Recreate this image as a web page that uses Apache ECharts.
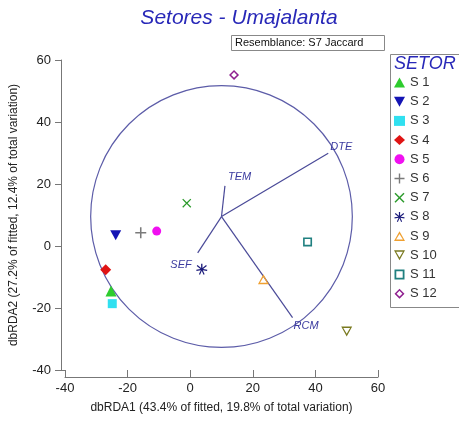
<!DOCTYPE html>
<html><head><meta charset="utf-8">
<script src="https://cdn.jsdelivr.net/npm/echarts@6/dist/echarts.min.js"></script>
<style>html,body{margin:0;padding:0;background:#fff}#c{width:459px;height:423px}</style>
</head><body><div id="c"></div>
<script>
// ---- data ----
const sectors = ['S 1','S 2','S 3','S 4','S 5','S 6','S 7','S 8','S 9','S 10','S 11','S 12'];
const dbRDA1 = [-25.3, -23.8, -24.9, -27.0, -10.7, -15.8, -1.1, 3.7, 23.4, 50.0, 37.5, 14.0];
const dbRDA2 = [-14.5, 3.5, -18.6, -7.7, 4.8, 4.3, 13.8, -7.5, -10.7, -27.6, 1.3, 55.2];
const vectorNames = ['DTE', 'TEM', 'RCM', 'SEF'];
const vectorX = [44.1, 11.1, 32.7, 2.4];
const vectorY = [29.9, 19.4, -23.1, -2.2];
const vectorOrigin = [10.0, 9.5];
const circleRadius = 42;
const xTicks = [-40, -20, 0, 20, 40, 60];
const yTicks = [-40, -20, 0, 20, 40, 60];

// ---- styles ----
const PATH_DOWN = 'path://M0,0L10,0L5,9Z';
const PATH_PLUS = 'path://M4.3,0H5.7V4.3H10V5.7H5.7V10H4.3V5.7H0V4.3H4.3Z';
const PATH_CROSS = 'path://M1,0L5,4L9,0L10,1L6,5L10,9L9,10L5,6L1,10L0,9L4,5L0,1Z';
const PATH_STAR = 'path://M4.4,0H5.6V3.9L8.9,1.2L9.6,2.1L6.2,4.8L10,5.4L9.8,6.5L5.9,5.9L7.6,9.4L6.6,9.9L5,6.4L3.4,9.9L2.4,9.4L4.1,5.9L0.2,6.5L0,5.4L3.8,4.8L0.4,2.1L1.1,1.2L4.4,3.9Z';
const PATH_OTRI = 'path://M5,0L10,9H0Z M5,2.6L1.9,7.7H8.1Z';
const PATH_ODOWN = 'path://M0,0H10L5,9Z M1.9,1.3L5,6.4L8.1,1.3Z';
const PATH_OSQ = 'path://M0,0H10V10H0Z M1.8,1.8V8.2H8.2V1.8Z';
const PATH_ODIA = 'path://M5,0L10,5L5,10L0,5Z M5,2.1L2.1,5L5,7.9L7.9,5Z';
const styles = [
  {symbol:'triangle', size:11, color:'#2ecc2e'},
  {symbol:PATH_DOWN, size:[11,10], color:'#1414b4'},
  {symbol:'rect', size:9, color:'#30e0f0'},
  {symbol:'diamond', size:11, color:'#e01414'},
  {symbol:'circle', size:9, color:'#f010f0'},
  {symbol:PATH_PLUS, size:11, color:'#7a7a7a'},
  {symbol:PATH_CROSS, size:9, color:'#2a9a2a'},
  {symbol:PATH_STAR, size:11, color:'#1a1a7a'},
  {symbol:PATH_OTRI, size:[11,10], color:'#f0a030'},
  {symbol:PATH_ODOWN, size:[11,10], color:'#7a7a20'},
  {symbol:PATH_OSQ, size:9, color:'#208080'},
  {symbol:PATH_ODIA, size:10, color:'#902090'}
];

const series = sectors.map((name, i) => ({
  name: name,
  type: 'scatter',
  data: [[dbRDA1[i], dbRDA2[i]]],
  symbol: styles[i].symbol,
  symbolSize: styles[i].size,
  itemStyle: {color: styles[i].color, opacity: 1},
  z: 5
}));

// correlation circle
series.push({
  type: 'custom', silent: true, z: 2,
  data: [[vectorOrigin[0], vectorOrigin[1], circleRadius]],
  renderItem: function(params, api) {
    const c = api.coord([api.value(0), api.value(1)]);
    const s = api.size([api.value(2), api.value(2)]);
    return {type: 'circle', shape: {cx: c[0], cy: c[1], r: (s[0] + s[1]) / 2},
      style: {fill: 'none', stroke: '#5c5ca8', lineWidth: 1.2}};
  }
});

// vectors
const labelOff = {DTE: [2, -6, 'left'], TEM: [3, -9, 'left'], RCM: [1, 8, 'left'], SEF: [-6, 12, 'right']};
series.push({
  type: 'custom', silent: true, z: 3,
  data: vectorNames.map((n, i) => [vectorOrigin[0], vectorOrigin[1], vectorX[i], vectorY[i], n]),
  renderItem: function(params, api) {
    const o = api.coord([api.value(0), api.value(1)]);
    const e = api.coord([api.value(2), api.value(3)]);
    const n = vectorNames[params.dataIndex];
    const off = labelOff[n];
    return {type: 'group', children: [
      {type: 'line', shape: {x1: o[0], y1: o[1], x2: e[0], y2: e[1]},
        style: {stroke: '#4a4a98', lineWidth: 1.2}},
      {type: 'text', x: e[0] + off[0], y: e[1] + off[1],
        style: {text: n, fill: '#3c3ca0', font: 'italic 11px Arial, "Liberation Sans"', align: off[2], verticalAlign: 'middle'}}
    ]};
  }
});

const chart = echarts.init(document.getElementById('c'), null, {renderer: 'canvas'});
chart.setOption({
  backgroundColor: '#fff',
  animation: false,
  title: {
    text: 'Setores - Umajalanta', left: 234, top: 3, textAlign: 'center',
    textStyle: {color: '#2828b8', fontStyle: 'italic', fontWeight: 'normal', fontSize: 21, fontFamily: 'Arial, "Liberation Sans"'}
  },
  grid: {left: 65, right: 81, top: 60, bottom: 53},
  xAxis: {
    type: 'value', min: xTicks[0], max: xTicks[xTicks.length - 1], interval: 20, offset: 7,
    name: 'dbRDA1 (43.4% of fitted, 19.8% of total variation)', nameLocation: 'middle', nameGap: 25,
    nameTextStyle: {color: '#222', fontSize: 12, fontFamily: 'Arial, "Liberation Sans"'},
    axisLine: {show: true, onZero: false, lineStyle: {color: '#777', width: 1}},
    axisTick: {show: true, inside: true, length: 7, lineStyle: {color: '#777'}},
    axisLabel: {color: '#222', fontSize: 13, margin: 5, fontFamily: 'Arial, "Liberation Sans"'},
    splitLine: {show: false}
  },
  yAxis: {
    type: 'value', min: yTicks[0], max: yTicks[yTicks.length - 1], interval: 20, offset: 4,
    name: 'dbRDA2 (27.2% of fitted, 12.4% of total variation)', nameLocation: 'middle', nameGap: 41,
    nameTextStyle: {color: '#222', fontSize: 12, fontFamily: 'Arial, "Liberation Sans"'},
    axisLine: {show: true, onZero: false, lineStyle: {color: '#777', width: 1}},
    axisTick: {show: true, length: 6, lineStyle: {color: '#777'}},
    axisLabel: {color: '#222', fontSize: 13, margin: 10, fontFamily: 'Arial, "Liberation Sans"'},
    splitLine: {show: false}
  },
  legend: {
    orient: 'vertical', left: 394, top: 76, padding: 0,
    itemWidth: 11, itemHeight: 10, itemGap: 6.2,
    data: sectors,
    textStyle: {color: '#333', fontSize: 13, fontFamily: 'Arial, "Liberation Sans"', padding: [0, 0, 0, 0]},
    selectedMode: false
  },
  graphic: [
    {type: 'rect', left: 231, top: 35, shape: {width: 153, height: 15},
      style: {fill: '#fff', stroke: '#888', lineWidth: 1}},
    {type: 'text', left: 235, top: 37,
      style: {text: 'Resemblance: S7 Jaccard', fill: '#111', font: '11px Arial, "Liberation Sans"'}},
    {type: 'rect', left: 388, top: 52, shape: {width: 80, height: 253},
      style: {fill: 'none', stroke: '#888', lineWidth: 1}},
    {type: 'text', left: 394, top: 55,
      style: {text: 'SETOR', fill: '#2828b8', font: 'italic 18px Arial, "Liberation Sans"'}},
    {type: 'line', shape: {x1: 61, y1: 370.5, x2: 65.5, y2: 370.5},
      style: {stroke: '#777', lineWidth: 1}}
  ],
  series: series
});
</script>
</body></html>
